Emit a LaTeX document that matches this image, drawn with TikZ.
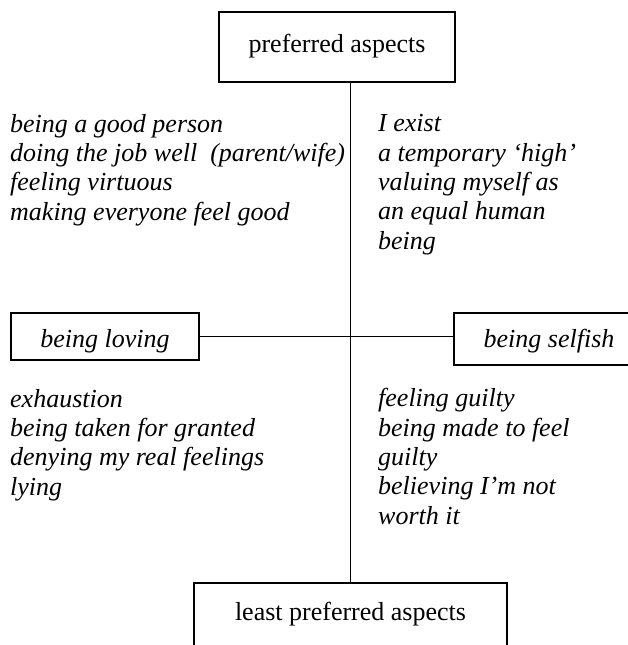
\documentclass[tikz,border=0pt]{standalone}
\usepackage{fontspec}
\setmainfont{Liberation Serif}
\tikzset{
  box/.style = {draw, line width = 1.2pt, inner sep = 0pt, text depth = 0pt, font = \fontsize{26}{29}\selectfont},
  list/.style = {anchor = base west, align = left, inner sep = 0pt, font = \fontsize{26}{29.3}\selectfont\itshape}
}
\begin{document}
\begin{tikzpicture}[x = 1pt, y = -1pt]
\clip (0, 0) rectangle (628, 645);
\node[box, minimum width = 236pt, minimum height = 70pt, text height = 10pt] (pref) at (337, 47) {preferred aspects};
\node[box, minimum width = 313pt, minimum height = 66pt, text height = 8pt] (least) at (350.5, 616) {least preferred aspects};
\node[box, minimum width = 188pt, minimum height = 47pt, text height = 21pt, font = \fontsize{26}{29}\selectfont\itshape] (loving) at (105, 336.5) {being loving};
\node[box, minimum width = 190pt, minimum height = 52pt, text height = 16pt, font = \fontsize{26}{29}\selectfont\itshape] (selfish) at (549, 339) {being selfish};
\draw[line width = 1.2pt] (least.north) -- (least.north |- pref.south);
\draw[line width = 1.2pt] (loving.east) -- (selfish.west |- loving.east);
\node[list] (goodl) at (10, 220) {being a good person\\doing the job well \ (parent/wife)\\feeling virtuous\\making everyone feel good};
\node[list] (goodr) at (378, 249) {I exist\\a temporary ‘high’\\valuing myself as\\an equal human\\being};
\node[list] (badl) at (10, 495) {exhaustion\\being taken for granted\\denying my real feelings\\lying};
\node[list] (badr) at (378, 524) {feeling guilty\\being made to feel\\guilty\\believing I’m not\\worth it};
\end{tikzpicture}
\end{document}
